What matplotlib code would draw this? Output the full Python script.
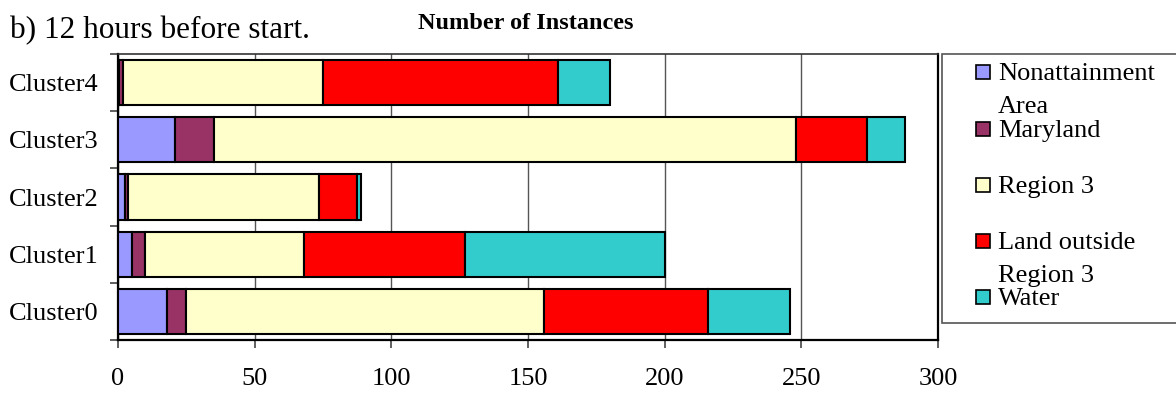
import numpy as np
import matplotlib
matplotlib.use("Agg")
import matplotlib.pyplot as plt
from matplotlib.patches import Rectangle

plt.rcParams['font.family'] = ['Liberation Serif', 'DejaVu Serif']

clusters = ['Cluster0', 'Cluster1', 'Cluster2', 'Cluster3', 'Cluster4']
series = ['Nonattainment\nArea', 'Maryland', 'Region 3', 'Land outside\nRegion 3', 'Water']
colors = ['#9999FF', '#993366', '#FFFFCC', '#FF0000', '#33CCCC']

nonattainment = [18, 5, 2.5, 21, 0.5]
maryland = [7, 5, 1, 14, 1.5]
region3 = [131, 58, 70, 213, 73]
land_outside = [60, 59, 14, 26, 86]
water = [30, 73, 1.5, 14, 19]

fig = plt.figure(figsize=(11.76, 3.95), dpi=100)
ax = fig.add_axes([118/1176, 1-340/395, (938-118)/1176, (340-54)/395])

y = np.arange(len(clusters))
left = np.zeros(len(clusters))
for vals, col in zip([nonattainment, maryland, region3, land_outside, water], colors):
    ax.barh(y, vals, left=left, height=0.79, color=col, edgecolor='black', linewidth=1.5, zorder=3)
    left += np.array(vals)

ax.set_xlim(0, 300)
ax.set_ylim(-0.5, len(clusters) - 0.5)
ax.set_xticks(range(0, 301, 50))
ax.set_yticks(y)
ax.set_yticklabels(clusters)
ax.set_yticks(np.arange(-0.5, len(clusters)), minor=True)
ax.tick_params(axis='y', which='major', length=0, pad=14, labelsize=19)
ax.tick_params(axis='y', which='minor', length=5.5, width=1.2, direction='out', color='#444444')
ax.tick_params(axis='x', which='major', length=5.5, width=1.2, direction='out', pad=15, labelsize=19, color='#444444')
ax.grid(axis='x', color='#555555', linewidth=1, zorder=0)
for s in ax.spines.values():
    s.set_linewidth(1.6)
    s.set_color('black')
ax.spines['top'].set_color('#333333')
ax.spines['top'].set_linewidth(1.2)

fig.text(10/1176, 1-38/395, 'b) 12 hours before start.', fontsize=22.5, va='baseline', ha='left')
fig.text(526/1176, 1-29/395, 'Number of Instances', fontsize=17.5, fontweight='bold', va='baseline', ha='center')

# legend
fig.patches.append(Rectangle((942/1176, 1-323/395), (1200-942)/1176, (323-54)/395,
                             transform=fig.transFigure, facecolor='white', edgecolor='#555555', linewidth=1.2))
entry_base = [80, 137, 193, 249, 305]
for lab, col, yb in zip(series, colors, entry_base):
    fig.patches.append(Rectangle((976/1176, 1-(yb-1)/395), 14/1176, 14/395, transform=fig.transFigure,
                                 facecolor=col, edgecolor='black', linewidth=1.2))
    for k, line in enumerate(lab.split('\n')):
        fig.text(998/1176, 1-(yb + 33*k)/395, line, fontsize=19, va='baseline', ha='left')

fig.savefig('out.png', dpi=100)
